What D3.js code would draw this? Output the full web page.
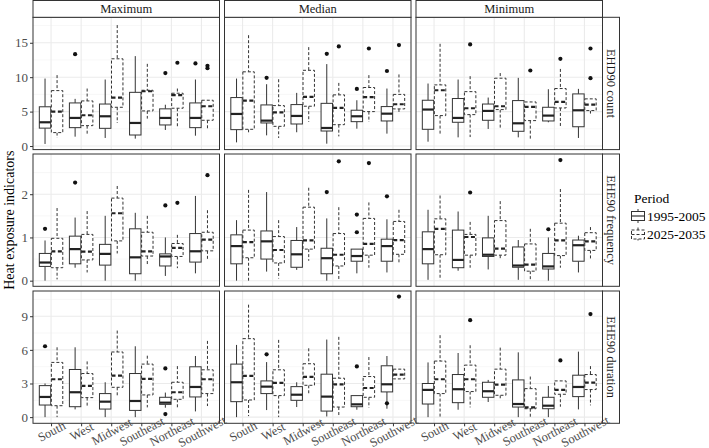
<!DOCTYPE html>
<html><head><meta charset="utf-8">
<script src="https://cdn.jsdelivr.net/npm/d3@7"></script>
<style>body{margin:0;background:#fff}svg{display:block}text{font-family:"Liberation Serif","Times New Roman",serif}</style>
</head><body><svg id="c" width="709" height="448"></svg>
<script>
// ---------- data ----------
const regions = ["South","West","Midwest","Southeast","Northeast","Southwest"];
const periods = ["1995-2005","2025-2035"];
const statistics = ["Maximum","Median","Minimum"];
const indicators = ["EHD90 count","EHE90 frequency","EHE90 duration"];
const yTicks = [[0,5,10,15],[0,1,2],[0,3,6,9]];
const yMinor = [[2.5,7.5,12.5,17.5],[0.5,1.5,2.5],[1.5,4.5,7.5,10.5]];
const yDomains = [[-0.52,18.7],[-0.13,2.93],[-0.55,11.25]];

// each box: [lower whisker, Q1, median, Q3, upper whisker] per region
const countMax1995 = [[0.3,2.6,3.45,5.7,9.8],[1.36,2.67,4.08,6.26,6.85],[1.17,2.57,4.32,6.1,9.66],[1.07,1.6,3.35,7.8,13.06],[2.33,3.06,4.08,5.4,6.0],[1.5,2.67,4.08,6.26,9.66]];
const countMax2025 = [[1.2,1.95,5.0,8.05,10.3],[1.65,2.96,4.47,6.55,8.35],[3.35,5.63,7.04,12.67,17.57],[3.98,5.1,7.96,8.1,11.94],[2.67,5.49,7.38,7.67,8.35],[2.52,3.74,5.78,6.65,6.65]];
const countMed1995 = [[0.53,2.38,4.66,7.04,9.8],[1.55,3.35,3.69,5.97,8.98],[2.0,3.2,4.37,6.02,7.72],[0.34,2.18,2.62,6.2,11.9],[2.52,3.54,4.32,5.2,6.65],[1.8,3.64,4.7,5.73,8.35]];
const countMed2025 = [[1.7,2.43,6.6,10.78,16.1],[1.17,2.86,4.9,5.87,9.7],[3.5,5.78,7.14,11.0,14.37],[1.4,3.1,5.53,7.43,9.17],[3.5,5.0,7.09,8.5,10.3],[4.66,5.39,6.07,7.5,10.4]];
const countMin1995 = [[0.63,2.43,5.3,6.65,9.08],[1.26,3.45,4.08,6.9,9.66],[2.48,3.74,5.1,6.1,7.04],[1.26,2.14,3.3,6.6,9.9],[3.45,3.64,4.42,5.63,8.25],[1.17,2.8,5.19,7.57,8.3]];
const countMin2025 = [[1.8,4.42,8.1,8.88,14.85],[1.3,4.56,5.49,7.9,10.15],[2.48,5.29,5.78,9.85,10.6],[0.83,3.69,5.68,6.4,6.4],[2.77,5.53,6.4,8.35,11.2],[4.42,5.15,6.0,6.85,6.85]];
const freqMax1995 = [[0,0.33,0.42,0.63,0.93],[0.3,0.39,0.73,1.03,1.46],[0,0.36,0.62,0.84,1.5],[0,0.16,0.54,1.2,1.57],[0.11,0.34,0.56,0.62,1.0],[0.17,0.43,0.68,1.09,1.96]];
const freqMax2025 = [[0.03,0.3,0.68,0.98,1.68],[0.19,0.48,0.67,1.07,1.61],[0.63,0.92,1.56,1.91,2.19],[0.36,0.57,0.68,1.12,1.5],[0.29,0.56,0.76,0.86,1.06],[0.49,0.69,0.95,1.12,1.63]];
const freqMed1995 = [[0,0.39,0.8,1.06,1.4],[0.21,0.5,0.91,1.15,2.05],[0.25,0.31,0.61,0.93,1.24],[0,0.16,0.52,0.75,1.44],[0.17,0.45,0.57,0.73,0.73],[0.19,0.45,0.8,0.96,1.42]];
const freqMed2025 = [[0,0.53,0.89,1.17,2.1],[0.05,0.41,0.71,1.02,1.4],[0.46,0.73,0.93,1.7,2.15],[0,0.34,0.6,1.09,1.7],[0.3,0.59,0.85,1.44,1.81],[0.41,0.61,0.94,1.37,1.64]];
const freqMin1995 = [[0.02,0.39,0.73,1.13,1.64],[0.23,0.3,0.48,1.17,1.6],[0.26,0.56,0.6,0.99,1.5],[0.02,0.31,0.35,0.78,0.94],[0,0.27,0.33,0.63,1.0],[0.19,0.45,0.82,0.94,1.04]];
const freqMin2025 = [[0.02,0.6,1.2,1.43,1.97],[0.3,0.59,1.01,1.07,1.36],[0.48,0.59,0.74,1.39,1.84],[0.03,0.22,0.37,0.85,1.2],[0.3,0.58,0.93,1.33,2.12],[0.49,0.7,0.91,1.11,1.24]];
const durMax1995 = [[0,1.08,1.8,2.81,3.0],[0.69,0.93,2.22,4.25,6.23],[0,0.72,1.38,2.1,3.11],[0,0.6,1.44,3.89,6.32],[0.84,1.14,1.29,1.77,2.19],[0.51,1.8,2.69,4.49,5.45]];
const durMax2025 = [[0,1.02,3.38,4.88,6.23],[0.93,1.74,2.78,3.89,4.97],[1.83,2.66,3.71,5.81,7.72],[0.87,1.98,3.41,4.73,5.48],[0.84,1.59,2.22,3.11,4.55],[0.99,2.1,3.38,4.22,6.8]];
const durMed1995 = [[0,1.38,3.11,4.73,6.44],[0.63,2.1,2.72,3.23,4.91],[0.9,1.5,2.0,2.72,3.11],[0.06,0.54,1.83,3.83,6.92],[0.66,0.93,1.14,1.92,1.92],[0.75,2.25,2.93,4.58,5.45]];
const durMed2025 = [[0.09,1.53,3.68,7.0,10.03],[0,1.92,3.05,4.22,6.89],[2.13,2.84,3.59,4.76,6.14],[0.15,0.9,2.93,3.47,7.16],[0.84,1.77,2.6,3.62,5.36],[3.41,3.41,3.8,4.28,4.28]];
const durMin1995 = [[0,1.17,2.43,3.0,4.88],[0.66,1.29,2.49,3.8,5.72],[1.35,1.77,2.31,3.11,3.32],[0,0.9,1.17,3.32,5.78],[0,0.75,1.02,1.77,2.78],[0.69,1.83,2.69,3.74,5.84]];
const durMin2025 = [[0,2.1,3.38,5.0,7.31],[0.87,2.28,3.38,4.64,6.41],[1.59,1.95,2.9,4.28,6.2],[0,0.75,0.87,2.54,3.62],[0.93,2.04,2.43,3.23,3.23],[1.05,2.46,3.08,3.8,4.55]];

// outliers: [region index, period index, value]
const countMaxOut = [[1,0,13.35],[4,0,10.6],[5,0,12.0],[4,1,12.1],[5,1,11.65],[5,1,11.3]];
const countMedOut = [[1,0,9.9],[3,0,13.4],[4,0,8.3],[5,0,10.9],[3,1,14.47],[4,1,14.17],[5,1,14.66]];
const countMinOut = [[1,1,14.76],[3,1,10.97],[4,1,12.67],[5,1,14.17],[5,1,9.85]];
const freqMaxOut = [[0,0,1.2],[1,0,2.27],[4,0,1.74],[4,1,1.8],[5,1,2.44]];
const freqMedOut = [[3,0,2.05],[4,0,1.53],[4,0,1.12],[5,0,1.95],[3,1,2.76],[4,1,2.72]];
const freqMinOut = [[4,0,1.19],[1,1,2.04],[4,1,2.79]];
const durMaxOut = [[0,0,6.32],[4,0,4.34],[4,0,0.27]];
const durMedOut = [[1,0,5.6],[4,0,4.52],[5,0,1.23],[5,1,10.75]];
const durMinOut = [[1,1,8.65],[4,1,5.06],[5,1,9.19]];

const panels = [
  [[countMax1995,countMax2025,countMaxOut],[countMed1995,countMed2025,countMedOut],[countMin1995,countMin2025,countMinOut]],
  [[freqMax1995,freqMax2025,freqMaxOut],[freqMed1995,freqMed2025,freqMedOut],[freqMin1995,freqMin2025,freqMinOut]],
  [[durMax1995,durMax2025,durMaxOut],[durMed1995,durMed2025,durMedOut],[durMin1995,durMin2025,durMinOut]]
];

// ---------- layout ----------
const colX = [33, 224.5, 416], panelW = 186.5;
const rowY = [17.3, 154, 291], panelH = 132.3;
const stripTop = 0.5;
const ink = "#333333", gridC = "#EBEBEB", txt = "#4D4D4D";
const dashes = ["none", "3,2"];

const svg = d3.select("#c");
const panelLayer = svg.append("g");
const stripLayer = svg.append("g");
const axisLayer = svg.append("g");

const x = d3.scalePoint().domain(regions).padding(0.6);

function drawBox(g, d, cx, w, y, dash) {
  const [lo, q1, md, q3, hi] = d;
  g.append("line").attr("x1",cx).attr("x2",cx).attr("y1",y(hi)).attr("y2",y(q3))
    .attr("stroke",ink).attr("stroke-width",1).attr("stroke-dasharray",dash);
  g.append("line").attr("x1",cx).attr("x2",cx).attr("y1",y(q1)).attr("y2",y(lo))
    .attr("stroke",ink).attr("stroke-width",1).attr("stroke-dasharray",dash);
  g.append("rect").attr("x",cx-w/2).attr("width",w).attr("y",y(q3)).attr("height",Math.max(0.01,y(q1)-y(q3)))
    .attr("fill","#fff").attr("stroke",ink).attr("stroke-width",1).attr("stroke-dasharray",dash);
  g.append("line").attr("x1",cx-w/2).attr("x2",cx+w/2).attr("y1",y(md)).attr("y2",y(md))
    .attr("stroke","#222").attr("stroke-width",2.2).attr("stroke-dasharray",dash==="none"?"none":"4,2.5");
}

indicators.forEach((ind, r) => {
  const y = d3.scaleLinear().domain(yDomains[r]).range([rowY[r]+panelH, rowY[r]]);
  statistics.forEach((st, c) => {
    const x0 = colX[c];
    x.range([x0, x0+panelW]);
    const step = x.step();
    const g = panelLayer.append("g");
    g.append("rect").attr("x",x0).attr("y",rowY[r]).attr("width",panelW).attr("height",panelH).attr("fill","#fff");
    // grid
    yMinor[r].filter(v => y(v) > rowY[r] && y(v) < rowY[r]+panelH).forEach(v => {
      g.append("line").attr("x1",x0).attr("x2",x0+panelW).attr("y1",y(v)).attr("y2",y(v)).attr("stroke","#F2F2F2").attr("stroke-width",0.6);
    });
    yTicks[r].forEach(v => {
      g.append("line").attr("x1",x0).attr("x2",x0+panelW).attr("y1",y(v)).attr("y2",y(v)).attr("stroke",gridC).attr("stroke-width",1.1);
    });
    regions.forEach(reg => {
      g.append("line").attr("x1",x(reg)).attr("x2",x(reg)).attr("y1",rowY[r]).attr("y2",rowY[r]+panelH).attr("stroke",gridC).attr("stroke-width",1.1);
    });
    const [a, b, outs] = panels[r][c];
    const w = step*0.38;
    [a, b].forEach((ser, p) => {
      ser.forEach((d, i) => {
        const cx = x(regions[i]) + (p === 0 ? -1 : 1) * step*0.2;
        drawBox(g, d, cx, w, y, dashes[p]);
      });
    });
    outs.forEach(([i, p, v]) => {
      g.append("circle").attr("cx", x(regions[i]) + (p === 0 ? -1 : 1)*step*0.2).attr("cy", y(v)).attr("r",2.1).attr("fill","#111");
    });
    g.append("rect").attr("x",x0).attr("y",rowY[r]).attr("width",panelW).attr("height",panelH)
      .attr("fill","none").attr("stroke",ink).attr("stroke-width",1);

    // y axis on first column
    if (c === 0) {
      const ax = axisLayer.append("g").attr("transform",`translate(${x0},0)`)
        .call(d3.axisLeft(y).tickValues(yTicks[r]).tickSize(3).tickPadding(2).tickFormat(d3.format("d")));
      ax.select(".domain").remove();
      ax.selectAll("line").attr("stroke",ink);
      ax.selectAll("text").attr("fill",txt).style("font-size","13px").style("font-family","Liberation Serif");
    }
    // x axis on last row
    if (r === 2) {
      const ax = axisLayer.append("g").attr("transform",`translate(0,${rowY[r]+panelH})`)
        .call(d3.axisBottom(x).tickSize(3).tickFormat(""));
      ax.select(".domain").remove();
      ax.selectAll("line").attr("stroke",ink);
      ax.selectAll(".tick").append("text")
        .attr("transform","translate(0,8) rotate(-28)")
        .attr("text-anchor","middle").attr("dy","0.35em")
        .attr("fill",txt).style("font-size","12.5px").style("font-family","Liberation Serif")
        .text(d => d);
    }
    // top strips
    if (r === 0) {
      stripLayer.append("rect").attr("x",x0).attr("y",stripTop).attr("width",panelW).attr("height",rowY[0]-stripTop)
        .attr("fill","#fff").attr("stroke",ink).attr("stroke-width",1);
      stripLayer.append("text").attr("x",x0+panelW/2).attr("y",(stripTop+rowY[0])/2).attr("dy","0.35em")
        .attr("text-anchor","middle").attr("fill","#1A1A1A").style("font-size","12.5px").text(st);
    }
    // right strips
    if (c === 2) {
      const sx = x0 + panelW, sw = 17;
      stripLayer.append("rect").attr("x",sx).attr("y",rowY[r]).attr("width",sw).attr("height",panelH)
        .attr("fill","#fff").attr("stroke",ink).attr("stroke-width",1);
      stripLayer.append("text").attr("transform",`translate(${sx+sw/2},${rowY[r]+panelH/2}) rotate(90)`)
        .attr("dy","0.35em").attr("text-anchor","middle").attr("fill","#1A1A1A").style("font-size","12.5px").text(ind);
    }
  });
});

// y title
svg.append("text").attr("transform",`translate(9,${rowY[1]+panelH/2}) rotate(-90)`)
  .attr("dy","0.35em").attr("text-anchor","middle").attr("fill","#000").style("font-size","14px")
  .text("Heat exposure indicators");

// legend
const lg = svg.append("g");
lg.append("text").attr("x",634).attr("y",198).attr("dy","0.35em").style("font-size","13.5px").attr("fill","#000").text("Period");
periods.forEach((p, i) => {
  const cy = 216 + i*18.5, cx = 638;
  const dash = dashes[i];
  lg.append("line").attr("x1",cx).attr("x2",cx).attr("y1",cy-7).attr("y2",cy+7).attr("stroke",ink).attr("stroke-dasharray",dash);
  lg.append("rect").attr("x",cx-6.5).attr("y",cy-4.5).attr("width",13).attr("height",9).attr("fill","#fff").attr("stroke",ink).attr("stroke-dasharray",dash);
  lg.append("line").attr("x1",cx-6.5).attr("x2",cx+6.5).attr("y1",cy).attr("y2",cy).attr("stroke",ink).attr("stroke-width",1.2).attr("stroke-dasharray",dash);
  lg.append("text").attr("x",647).attr("y",cy).attr("dy","0.35em").style("font-size","13.5px").attr("fill","#000").text(p);
});
</script></body></html>
